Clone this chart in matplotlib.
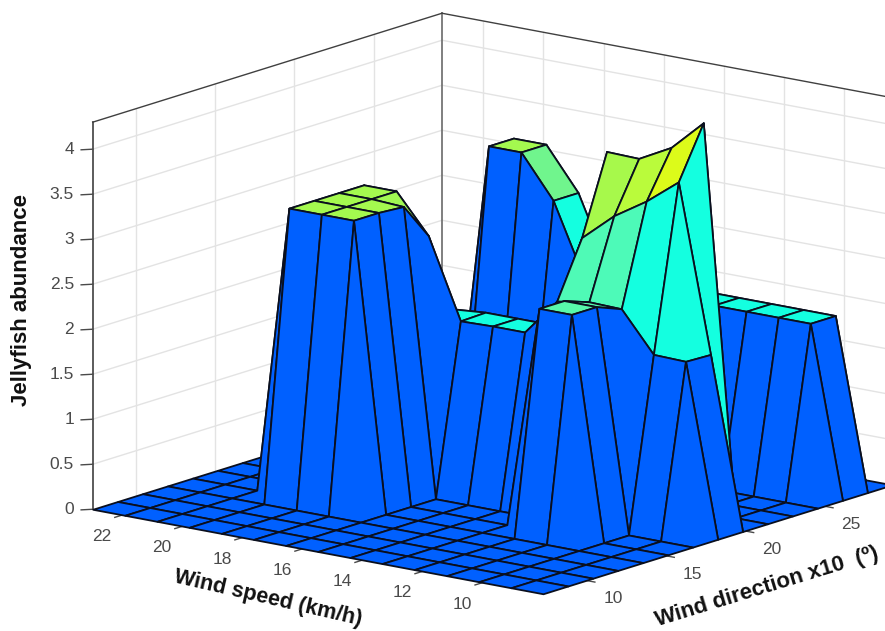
import numpy as np
import matplotlib
matplotlib.use('Agg')
import matplotlib.pyplot as plt
from matplotlib.colors import LinearSegmentedColormap, Normalize
from mpl_toolkits.mplot3d.art3d import Poly3DCollection
from mpl_toolkits.mplot3d import proj3d

plt.rcParams['font.family'] = ['Liberation Sans', 'DejaVu Sans']

# rows are wind speed, columns are wind direction
wind_speed = [8, 9.07, 10.14, 11.21, 12.29, 13.36, 14.43, 15.5, 16.57, 17.64, 18.71, 19.79, 20.86, 21.93, 23]
wind_dir = [7.3, 8.87, 10.44, 12.01, 13.59, 15.16, 16.73, 18.3, 19.87, 21.44, 23.01, 24.59, 26.16, 27.73, 29.3]
abundance = [
    [0, 0, 0, 0, 0, 0, 0, 0, 0, 0, 0, 0, 0, 0, 0],
    [0, 0, 0, 0, 0, 0, 0, 1.91, 1.9, 0, 0, 0, 1.9, 1.9, 0],
    [0, 0, 0, 0, 0, 0, 0, 1.92, 3.75, 4.32, 0, 0, 1.9, 1.9, 0],
    [0, 0, 0, 0, 0, 2.47, 2.47, 2.36, 3.47, 3.98, 0, 0, 1.9, 1.9, 0],
    [0, 0, 0, 0, 0, 2.47, 2.47, 2.37, 3.24, 3.79, 0, 0, 1.9, 1.9, 0],
    [0, 0, 0, 0, 0, 0, 0, 2.31, 2.93, 3.8, 0, 0, 1.9, 1.9, 0],
    [0, 0, 0, 0, 0, 0, 0, 1.9, 1.9, 0, 0, 0, 1.9, 1.9, 0],
    [0, 0, 0, 0, 0, 0, 0, 1.9, 1.9, 0, 0, 0, 1.9, 1.9, 0],
    [0, 0, 0, 0, 0, 0, 0, 1.89, 1.9, 0, 0, 0, 1.9, 1.9, 0],
    [0, 0, 0, 0, 3.2, 3.2, 3.18, 2.77, 1.87, 0, 0, 0, 2.73, 2.73, 0],
    [0, 0, 0, 0, 3.2, 3.2, 3.2, 3.2, 0, 0, 0, 0, 3.2, 3.2, 0],
    [0, 0, 0, 0, 3.2, 3.2, 3.2, 3.2, 0, 0, 0, 0, 3.2, 3.2, 0],
    [0, 0, 0, 0, 0, 0, 0, 0, 0, 0, 0, 0, 0, 0, 0],
    [0, 0, 0, 0, 0, 0, 0, 0, 0, 0, 0, 0, 0, 0, 0],
    [0, 0, 0, 0, 0, 0, 0, 0, 0, 0, 0, 0, 0, 0, 0],
]
z_ticks = [0, 0.5, 1, 1.5, 2, 2.5, 3, 3.5, 4]
z_labels = ['0', '0.5', '1', '1.5', '2', '2.5', '3', '3.5', '4']
speed_ticks = [10, 12, 14, 16, 18, 20, 22]
dir_ticks = [10, 15, 20, 25]

cmap = LinearSegmentedColormap.from_list('jelly', [
    (0.0, '#0060ff'), (0.3, '#0060ff'), (0.44, '#14ffe0'), (0.47, '#14ffe0'),
    (0.56, '#4dfab8'), (0.65, '#70f58e'), (0.77, '#a6f94c'), (0.826, '#b9fb3c'),
    (0.89, '#dcfb1a'), (1.0, '#e6fb10')])
norm = Normalize(0, 4.2)

Z = np.array(abundance, dtype=float)
d_min, d_max = wind_dir[0], wind_dir[-1]
s_min, s_max = wind_speed[0], wind_speed[-1]
z_top = 4.3

fig = plt.figure(figsize=(8.85, 6.31), dpi=100)
ax = fig.add_axes([44.2/885, -120.8/631, 873/885, 873/631], projection='3d')
ax.set_proj_type('ortho')
ax.set_box_aspect((1, 1, 0.7))
ax.view_init(elev=14, azim=-142.2)
ax.set_xlim(d_min, d_max, view_margin=0)
ax.set_ylim(s_min, s_max, view_margin=0)
ax.set_zlim(0, z_top, view_margin=0)
ax.set_axis_off()
ax.computed_zorder = False
proj = ax.get_proj()


def label3d(x, y, z, s, **kw):
    # flat text placed at the projected point
    x2, y2, _ = proj3d.proj_transform(x, y, z, proj)
    ax.text2D(x2, y2, s, transform=ax.transData, **kw)


grid_c = '#e3e3e3'
wall_shift = 0.38  # the back wall lines sit a little off the front ticks in the original
for z in z_ticks[1:]:
    ax.plot([d_min, d_max], [s_max, s_max], [z, z], color=grid_c, lw=1, zorder=1)
    ax.plot([d_max, d_max], [s_max, s_min], [z, z], color=grid_c, lw=1, zorder=1)
for d in dir_ticks:
    ax.plot([d, d], [s_max, s_max], [0, z_top], color=grid_c, lw=1, zorder=1)
for s in speed_ticks:
    ax.plot([d_max, d_max], [s-wall_shift, s-wall_shift], [0, z_top], color=grid_c, lw=1, zorder=1)

# box edges
edge_c = '#404040'
ax.plot([d_min, d_min], [s_max, s_max], [0, z_top], color=edge_c, lw=1.2, zorder=2)
ax.plot([d_max, d_max], [s_max, s_max], [0, z_top], color='#6a6a6a', lw=1.2, zorder=2)
ax.plot([d_min, d_max], [s_max, s_max], [z_top, z_top], color=edge_c, lw=1, zorder=2)
ax.plot([d_max, d_max], [s_max, s_min], [z_top, z_top], color=edge_c, lw=1, zorder=2)

# cells back to front, coloured from the lowest index corner like flat shading
order = 10
for i in range(len(wind_speed)-2, -1, -1):
    for j in range(len(wind_dir)-2, -1, -1):
        verts = [(wind_dir[j], wind_speed[i], Z[i, j]),
                 (wind_dir[j], wind_speed[i+1], Z[i+1, j]),
                 (wind_dir[j+1], wind_speed[i+1], Z[i+1, j+1]),
                 (wind_dir[j+1], wind_speed[i], Z[i, j+1])]
        poly = Poly3DCollection([verts], facecolor=cmap(norm(Z[i, j])),
                                edgecolor='#0a0f1e', linewidth=1.3)
        ax.add_collection3d(poly)
        poly.set_zorder(order)
        order += 1

# ticks and labels
tick_c = '#4a4a4a'
for z, lab in zip(z_ticks, z_labels):
    ax.plot([d_min, d_min-0.35], [s_max, s_max+0.2], [z, z], color=tick_c, lw=1, zorder=2)
    label3d(d_min, s_max+0.62, z-0.04, lab, color=tick_c, fontsize=12.5, ha='right', va='center', zorder=3)
for s in speed_ticks:
    ax.plot([d_min, d_min-0.5], [s, s], [0, 0], color=tick_c, lw=1, zorder=2)
    label3d(d_min-1.3, s, -0.17, str(s), color=tick_c, fontsize=12.5, ha='center', va='center', zorder=3)
for d in dir_ticks:
    ax.plot([d, d], [s_min, s_min-0.3], [0, 0], color=tick_c, lw=1, zorder=2)
    label3d(d, s_min-0.9, -0.15, str(d), color=tick_c, fontsize=12.5, ha='center', va='center', zorder=3)

fig.text(22/885, 1-300/631, 'Jellyfish abundance', rotation=90, fontsize=16, fontweight='bold',
         color='#111111', ha='center', va='center')
fig.text(268/885, 1-598/631, 'Wind speed (km/h)', rotation=-13, fontsize=15.6, fontweight='bold',
         color='#111111', ha='center', va='center', rotation_mode='anchor')
fig.text(767/885, 1-587/631, 'Wind direction x10  (º)', rotation=17, fontsize=16, fontweight='bold',
         color='#111111', ha='center', va='center', rotation_mode='anchor')

plt.savefig('out.png', dpi=100)
